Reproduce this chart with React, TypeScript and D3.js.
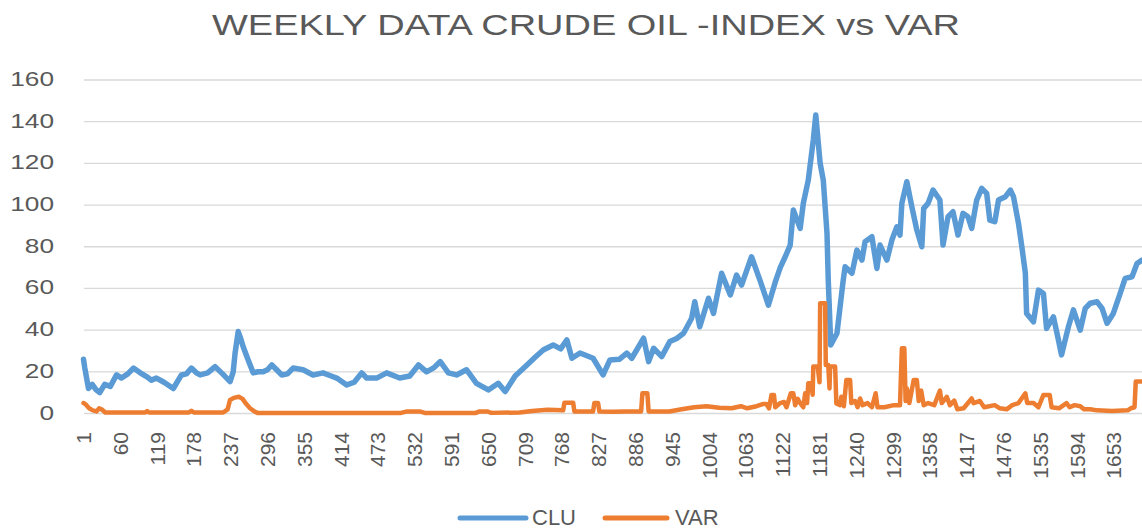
import React from 'react';
import * as d3 from 'd3';

// CLU index (week number, value)
const cluWeek = [1, 3, 9, 15, 21, 27, 35, 44, 54, 62, 72, 81, 92, 102, 110, 118, 130, 145, 158, 166, 174, 182, 188, 200, 212, 224, 236, 241, 244, 249, 253, 257, 265, 273, 281, 289, 296, 303, 319, 328, 337, 353, 369, 385, 398, 407, 423, 435, 447, 455, 471, 487, 508, 524, 538, 551, 563, 573, 586, 599, 615, 631, 650, 666, 677, 693, 712, 725, 738, 754, 766, 776, 784, 797, 818, 834, 845, 860, 872, 880, 899, 907, 915, 928, 941, 952, 963, 976, 981, 989, 1003, 1011, 1024, 1038, 1048, 1056, 1072, 1086, 1099, 1110, 1118, 1126, 1134, 1139, 1150, 1155, 1163, 1171, 1175, 1182, 1187, 1193, 1195, 1199, 1209, 1219, 1222, 1233, 1241, 1249, 1254, 1265, 1273, 1278, 1289, 1297, 1305, 1310, 1313, 1321, 1329, 1337, 1345, 1348, 1355, 1363, 1374, 1379, 1387, 1395, 1403, 1411, 1419, 1425, 1433, 1441, 1449, 1454, 1462, 1468, 1479, 1487, 1492, 1500, 1505, 1511, 1513, 1524, 1532, 1540, 1545, 1556, 1564, 1569, 1580, 1588, 1599, 1607, 1615, 1626, 1634, 1642, 1652, 1663, 1671, 1682, 1690, 1698];
const cluValue = [26, 22, 12, 14, 11.5, 10, 14, 13, 18.5, 17, 19, 21.8, 19.5, 17.7, 16, 17, 15, 12, 18.5, 19, 21.8, 19.5, 18.5, 19.5, 22.5, 19, 15.3, 20, 28.9, 39.3, 36, 32, 25.7, 19.5, 20, 20, 21, 23.3, 18.5, 19, 21.8, 21, 18.5, 19.5, 18, 17, 13.7, 15, 19.5, 17, 17, 19.5, 17, 18, 23.3, 20, 22, 24.9, 19.5, 18.5, 21, 14.5, 11.3, 14.5, 10.5, 18, 23.3, 27, 30.5, 32.9, 31, 35.3, 26.5, 29, 26.5, 18.5, 25.7, 26, 29, 26.5, 36.1, 24.9, 31.3, 27.3, 34.5, 36, 38.5, 45.7, 53.6, 41.6, 55.3, 48, 67.3, 56.9, 66.4, 61.6, 75.2, 63.5, 52, 63, 70, 75.2, 80.8, 97.6, 88.8, 100.8, 112, 131.2, 143.2, 120, 112, 86.4, 64, 32.9, 38.5, 64, 70.4, 67.3, 78.4, 73.6, 82.4, 84.8, 69.6, 80.8, 73.6, 83.2, 89.6, 85.6, 100.8, 111.2, 99.2, 88, 80, 98.4, 100.8, 107.2, 102.4, 80.8, 94.4, 96.8, 85.6, 96, 94.4, 88.8, 102.4, 108, 105.6, 92.8, 92, 102.4, 104, 107.2, 104, 91.2, 80.8, 67.3, 48, 44, 59.2, 57.6, 40.8, 46.4, 35.3, 28.1, 41.6, 49.7, 40, 50.4, 52.9, 53.6, 50.4, 43.3, 48, 57.6, 64.8, 65.6, 72, 73.6];

// VAR series (week number, value)
const varWeek = [1, 4, 10, 16, 22, 26, 30, 36, 100, 103, 106, 170, 174, 178, 225, 232, 236, 242, 250, 256, 262, 268, 275, 280, 510, 520, 540, 548, 630, 636, 648, 655, 700, 720, 745, 770, 772, 786, 788, 818, 820, 826, 828, 850, 870, 895, 897, 905, 907, 940, 960, 980, 1000, 1020, 1040, 1055, 1065, 1080, 1090, 1096, 1100, 1104, 1108, 1110, 1118, 1124, 1128, 1135, 1139, 1142, 1146, 1150, 1155, 1158, 1161, 1163, 1168, 1170, 1171, 1178, 1181, 1182, 1190, 1191, 1195, 1197, 1198, 1206, 1208, 1214, 1216, 1220, 1224, 1230, 1232, 1238, 1242, 1246, 1250, 1258, 1265, 1271, 1274, 1285, 1300, 1310, 1313, 1317, 1319, 1321, 1325, 1332, 1337, 1340, 1344, 1348, 1355, 1365, 1374, 1377, 1385, 1390, 1397, 1402, 1412, 1425, 1428, 1438, 1445, 1462, 1470, 1481, 1490, 1500, 1511, 1514, 1524, 1532, 1540, 1550, 1553, 1565, 1577, 1582, 1590, 1599, 1605, 1615, 1626, 1650, 1675, 1680, 1686, 1688, 1698];
const varValue = [5, 4.5, 2.5, 1.5, 1, 2.5, 2, 0.5, 0.5, 1.2, 0.5, 0.5, 1.3, 0.5, 0.5, 2, 6.5, 7.5, 8, 7, 4.5, 2.5, 1, 0.3, 0.3, 1, 1, 0.3, 0.3, 1, 1, 0.3, 0.5, 1.2, 1.8, 1.5, 5.2, 5.2, 1, 1, 5, 5, 1, 0.8, 1, 1, 9.7, 9.7, 1, 1, 2, 3, 3.5, 2.8, 2.5, 3.5, 2.5, 3.5, 4.5, 4.5, 2.5, 8.9, 8.9, 3, 5, 5.5, 3, 9.7, 9.7, 4, 7, 5, 3, 9.7, 5, 14.5, 14.5, 9, 22.5, 22.5, 15, 52.9, 52.9, 23.3, 23.3, 12, 22.5, 22.5, 4.8, 4, 8, 3.5, 16.1, 16.1, 5, 6, 3, 7.2, 4, 5, 3, 9.7, 3, 3, 4, 4, 31.3, 31.3, 6, 12, 5, 16.1, 16.1, 6, 11, 4, 5, 4, 11, 5, 8, 4, 6.2, 2, 2.5, 7.2, 5, 6, 3, 4, 2.5, 2, 4, 5, 9.7, 5, 5, 3, 8.9, 8.9, 3, 2.5, 5, 3, 4, 3.5, 2, 2, 1.5, 1.2, 1.5, 2.5, 3, 15.3, 15.3];

const yTicks = [0, 20, 40, 60, 80, 100, 120, 140, 160];
const xTicks = d3.range(1, 1700, 59);

const W = 1142;
const H = 529;
const textColor = '#595959';
const font = "'Liberation Sans', Arial, sans-serif";

export default function App() {
  const x = d3.scaleLinear().domain([1, 1698]).range([83.5, 1142]);
  const y = d3.scaleLinear().domain([0, 160]).range([413.5, 80]);

  const clu = cluWeek.map((w, i) => [w, cluValue[i]] as [number, number]);
  const vr = varWeek.map((w, i) => [w, varValue[i]] as [number, number]);
  const line = d3.line<[number, number]>().x(d => x(d[0])).y(d => y(d[1]));

  return (
    <div style={{ position: 'absolute', left: 0, top: 0 }}>
      <svg width={W} height={H} style={{ display: 'block', background: '#fff' }}>
        <text x={586} y={35} textAnchor="middle" fill={textColor}
          fontFamily={font} fontSize={30}
          textLength={748} lengthAdjust="spacingAndGlyphs">
          WEEKLY DATA CRUDE OIL -INDEX vs VAR
        </text>

        {/* gridlines */}
        {yTicks.map(t => (
          <line key={'g' + t} x1={84} x2={W} y1={y(t)} y2={y(t)} stroke="#D9D9D9" strokeWidth={1.3} />
        ))}

        {/* y labels, a bit wide like the original */}
        {yTicks.map(t => (
          <g key={'y' + t} transform={`translate(54,${y(t) + 6}) scale(1.25,1)`}>
            <text textAnchor="end" fill={textColor} fontFamily={font} fontSize={21}>{t}</text>
          </g>
        ))}

        {/* x labels */}
        {xTicks.map(t => (
          <text key={'x' + t} transform={`translate(${x(t)},432) rotate(-90)`} textAnchor="end" dy="0.36em"
            fill={textColor} fontFamily={font} fontSize={21}>{t}</text>
        ))}

        <path d={line(clu) || ''} fill="none" stroke="#5B9BD5" strokeWidth={5.5} strokeLinejoin="round" strokeLinecap="round" />
        <path d={line(vr) || ''} fill="none" stroke="#ED7D31" strokeWidth={4.5} strokeLinejoin="round" strokeLinecap="round" />

        {/* legend */}
        <line x1={460} x2={526} y1={518} y2={518} stroke="#5B9BD5" strokeWidth={5} strokeLinecap="round" />
        <text x={532} y={525} fill={textColor} fontFamily={font} fontSize={22}>CLU</text>
        <line x1={605} x2={667} y1={518} y2={518} stroke="#ED7D31" strokeWidth={5} strokeLinecap="round" />
        <text x={675} y={525} fill={textColor} fontFamily={font} fontSize={22}>VAR</text>
      </svg>
    </div>
  );
}
